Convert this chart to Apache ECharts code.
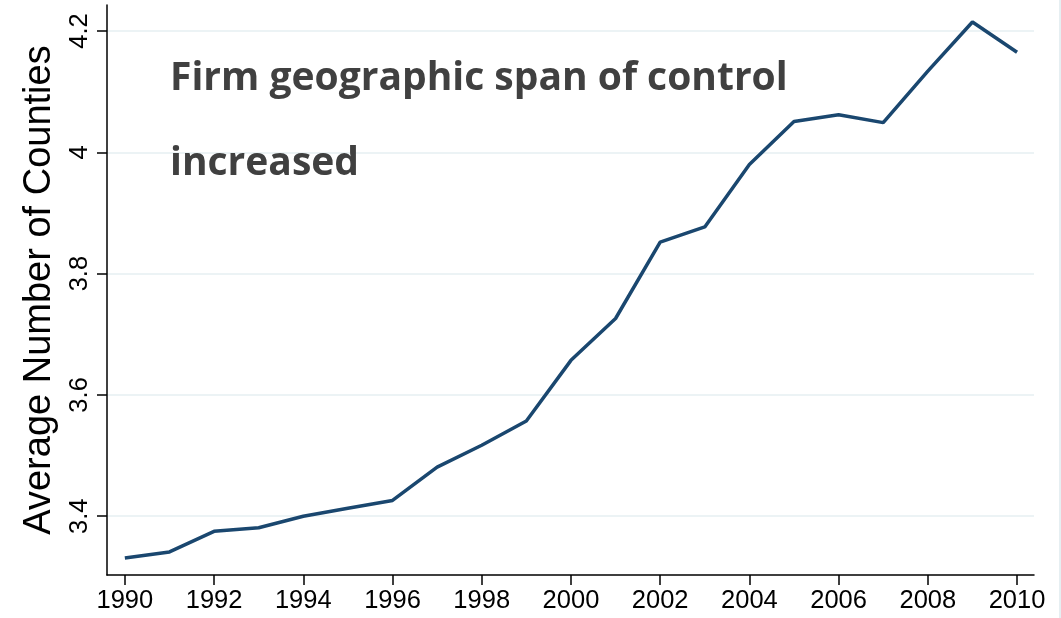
<!DOCTYPE html>
<html>
<head>
<meta charset="utf-8">
<script src="https://cdn.jsdelivr.net/npm/echarts@6/dist/echarts.min.js"></script>
<style>html,body{margin:0;padding:0;background:#fff}#c{width:1061px;height:618px}</style>
</head>
<body>
<div id="c"></div>
<script>
var years = [1990,1991,1992,1993,1994,1995,1996,1997,1998,1999,2000,2001,2002,2003,2004,2005,2006,2007,2008,2009,2010];
var avgCounties = [3.331,3.341,3.375,3.381,3.400,3.413,3.426,3.481,3.517,3.557,3.657,3.726,3.852,3.877,3.980,4.051,4.062,4.049,4.134,4.215,4.165];
var xTicks = [1990,1992,1994,1996,1998,2000,2002,2004,2006,2008,2010];
var yTicks = [3.4,3.6,3.8,4.0,4.2];
var yTickLabels = ['3.4','3.6','3.8','4','4.2'];
var annotation = ['Firm geographic span of control','increased'];

var chart = echarts.init(document.getElementById('c'), null, {renderer:'canvas'});
var pts = years.map(function(y,i){return [y, avgCounties[i]];});
chart.setOption({
  animation:false,
  backgroundColor:'#ffffff',
  grid:{left:107,right:27,top:5,bottom:43,containLabel:false},
  xAxis:{
    type:'value', min:1989.6, max:2010.38,
    axisLine:{show:true,onZero:false,lineStyle:{color:'#000',width:1.5}},
    axisTick:{show:true,length:10,lineStyle:{color:'#000',width:1.5},customValues:xTicks},
    axisLabel:{color:'#000',fontFamily:'Liberation Sans',fontSize:25.5,margin:13,customValues:xTicks,
      formatter:function(v){return String(v);}},
    splitLine:{show:false}
  },
  yAxis:{
    type:'value', min:3.303, max:4.243,
    name:'Average Number of Counties', nameLocation:'middle', nameRotate:90, nameGap:48,
    nameTextStyle:{fontFamily:'Liberation Sans',fontSize:38,color:'#000'},
    axisLine:{show:true,onZero:false,lineStyle:{color:'#000',width:1.5}},
    axisTick:{show:true,length:10,lineStyle:{color:'#000',width:1.5},customValues:yTicks},
    axisLabel:{color:'#000',fontFamily:'Liberation Sans',fontSize:25.5,margin:14,rotate:90,customValues:yTicks,
      formatter:function(v){var i=yTicks.findIndex(function(t){return Math.abs(t-v)<1e-6;});return i>=0?yTickLabels[i]:'';}},
    splitLine:{show:true,lineStyle:{color:'#e6eff2',width:1.5}}
  },
  graphic:[
    {type:'text',z:100,left:170,top:59,style:{text:annotation[0],font:'bold 39px "Open Sans"',fill:'#404040'}},
    {type:'text',z:100,left:170,top:144,style:{text:annotation[1],font:'bold 39px "Open Sans"',fill:'#404040'}},
    {type:'rect',shape:{x:1059,y:0,width:2,height:618},style:{fill:'#e6eff2'}}
  ],
  series:[{
    type:'line', data:pts, showSymbol:false, symbol:'none',
    lineStyle:{color:'#1a476f',width:3.5}
  }]
});
</script>
</body>
</html>
